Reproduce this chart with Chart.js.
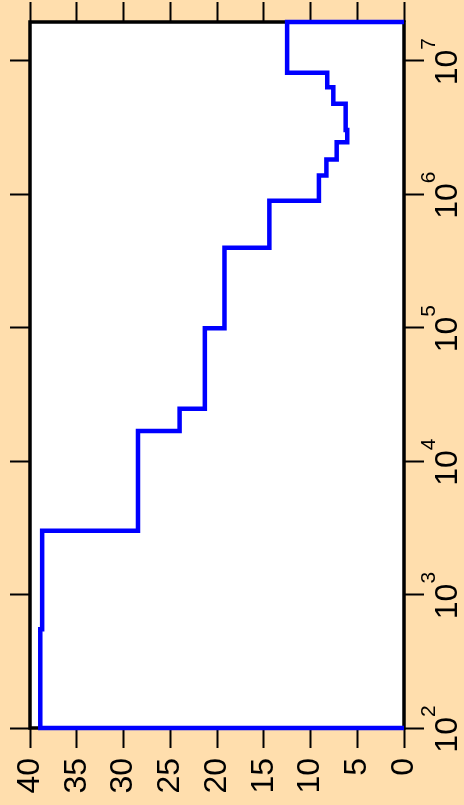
<!DOCTYPE html>
<html>
<head>
<meta charset="utf-8">
<script src="https://cdn.jsdelivr.net/npm/chart.js@4.4.1/dist/chart.umd.min.js"></script>
<style>
  html, body { margin: 0; padding: 0; background: #FFDEAD; }
  canvas { display: block; }
</style>
</head>
<body>
<canvas id="chart" width="464" height="805"></canvas>
<script>
// bin edges (log axis) and the value held on each bin
const binEdges = [100, 550, 3000, 16800, 24650, 99000, 396000, 891000, 1.38e6, 1.82e6,
                  2.45e6, 3.03e6, 4.75e6, 6.33e6, 8.12e6, 1.95e7];
const binValues = [38.9, 38.7, 28.45, 24.0, 21.3, 19.2, 14.4, 9.1, 8.3, 7.2,
                   6.07, 6.24, 7.56, 8.21, 12.5];
const expTicks = [2, 3, 4, 5, 6, 7];
const valueMin = 0;
const valueMax = 40;
const valueStep = 5;

const family = "'Liberation Sans', Arial, sans-serif";
Chart.defaults.font.family = family;
Chart.defaults.color = '#000';

// step outline: along the bottom edge, up through each bin, back to 0 at the top
const points = [{ x: 0, y: binEdges[0] }]
  .concat(binValues.map((v, i) => ({ x: v, y: binEdges[i] })))
  .concat([{ x: 0, y: binEdges[binEdges.length - 1] }]);

const logTicks = s => { s.ticks = expTicks.map(k => ({ value: Math.pow(10, k) })); };

const panel = {
  id: 'panel',
  beforeDraw(chart) {
    const { ctx, chartArea: a } = chart;
    ctx.save();
    ctx.fillStyle = '#FFDEAD';
    ctx.fillRect(0, 0, chart.width, chart.height);
    ctx.fillStyle = '#fff';
    ctx.fillRect(a.left, a.top, a.right - a.left, a.bottom - a.top);
    ctx.restore();
  },
  beforeDatasetsDraw(chart) {
    const { ctx, chartArea: a } = chart;
    ctx.save();
    ctx.strokeStyle = '#000';
    ctx.lineWidth = 3.5;
    ctx.strokeRect(a.left, a.top, a.right - a.left, a.bottom - a.top);
    ctx.restore();
  }
};

// 10^k labels on the right, turned to read bottom to top
const expLabels = {
  id: 'expLabels',
  afterDraw(chart) {
    const { ctx, chartArea, scales } = chart;
    ctx.save();
    ctx.fillStyle = '#000';
    ctx.textBaseline = 'alphabetic';
    ctx.textAlign = 'left';
    expTicks.forEach(k => {
      const py = scales.y.getPixelForValue(Math.pow(10, k));
      ctx.save();
      ctx.translate(chartArea.right, py);
      ctx.rotate(-Math.PI / 2);
      ctx.font = '32px ' + family;
      const wb = ctx.measureText('10').width;
      ctx.font = '21px ' + family;
      const we = ctx.measureText(String(k)).width;
      const x0 = -(wb + we) / 2 - 1;
      ctx.font = '32px ' + family;
      ctx.fillText('10', x0, 53);
      ctx.font = '21px ' + family;
      ctx.fillText(String(k), x0 + wb, 31);
      ctx.restore();
    });
    ctx.restore();
  }
};

const tickGrid = {
  drawOnChartArea: false,
  drawTicks: true,
  tickLength: 20,
  tickWidth: 2,
  tickColor: '#000'
};

new Chart(document.getElementById('chart'), {
  type: 'line',
  data: {
    datasets: [{
      data: points,
      xAxisID: 'x',
      yAxisID: 'y',
      stepped: 'after',
      borderColor: '#0000FF',
      borderWidth: 4.5,
      borderJoinStyle: 'miter',
      borderCapStyle: 'butt',
      pointRadius: 0,
      fill: false,
      clip: 6
    }]
  },
  options: {
    responsive: false,
    animation: false,
    devicePixelRatio: 1,
    layout: { padding: 0 },
    plugins: { legend: { display: false }, tooltip: { enabled: false } },
    scales: {
      x: {
        type: 'linear', axis: 'x', position: 'bottom',
        min: valueMin, max: valueMax, reverse: true,
        border: { display: false },
        grid: tickGrid,
        ticks: {
          stepSize: valueStep, minRotation: 90, maxRotation: 90,
          autoSkip: false, padding: 10, color: '#000',
          font: { size: 32 }
        },
        afterFit: s => { s.height = 77; }
      },
      x2: {
        type: 'linear', axis: 'x', position: 'top',
        min: valueMin, max: valueMax, reverse: true,
        border: { display: false },
        grid: tickGrid,
        ticks: { stepSize: valueStep, display: false },
        afterFit: s => { s.height = 22; }
      },
      y: {
        type: 'logarithmic', axis: 'y', position: 'right',
        min: binEdges[0], max: binEdges[binEdges.length - 1],
        border: { display: false },
        grid: tickGrid,
        ticks: { display: false },
        afterBuildTicks: logTicks,
        afterFit: s => { s.width = 60; }
      },
      y2: {
        type: 'logarithmic', axis: 'y', position: 'left',
        min: binEdges[0], max: binEdges[binEdges.length - 1],
        border: { display: false },
        grid: tickGrid,
        ticks: { display: false },
        afterBuildTicks: logTicks,
        afterFit: s => { s.width = 30; }
      }
    }
  },
  plugins: [panel, expLabels]
});
</script>
</body>
</html>
